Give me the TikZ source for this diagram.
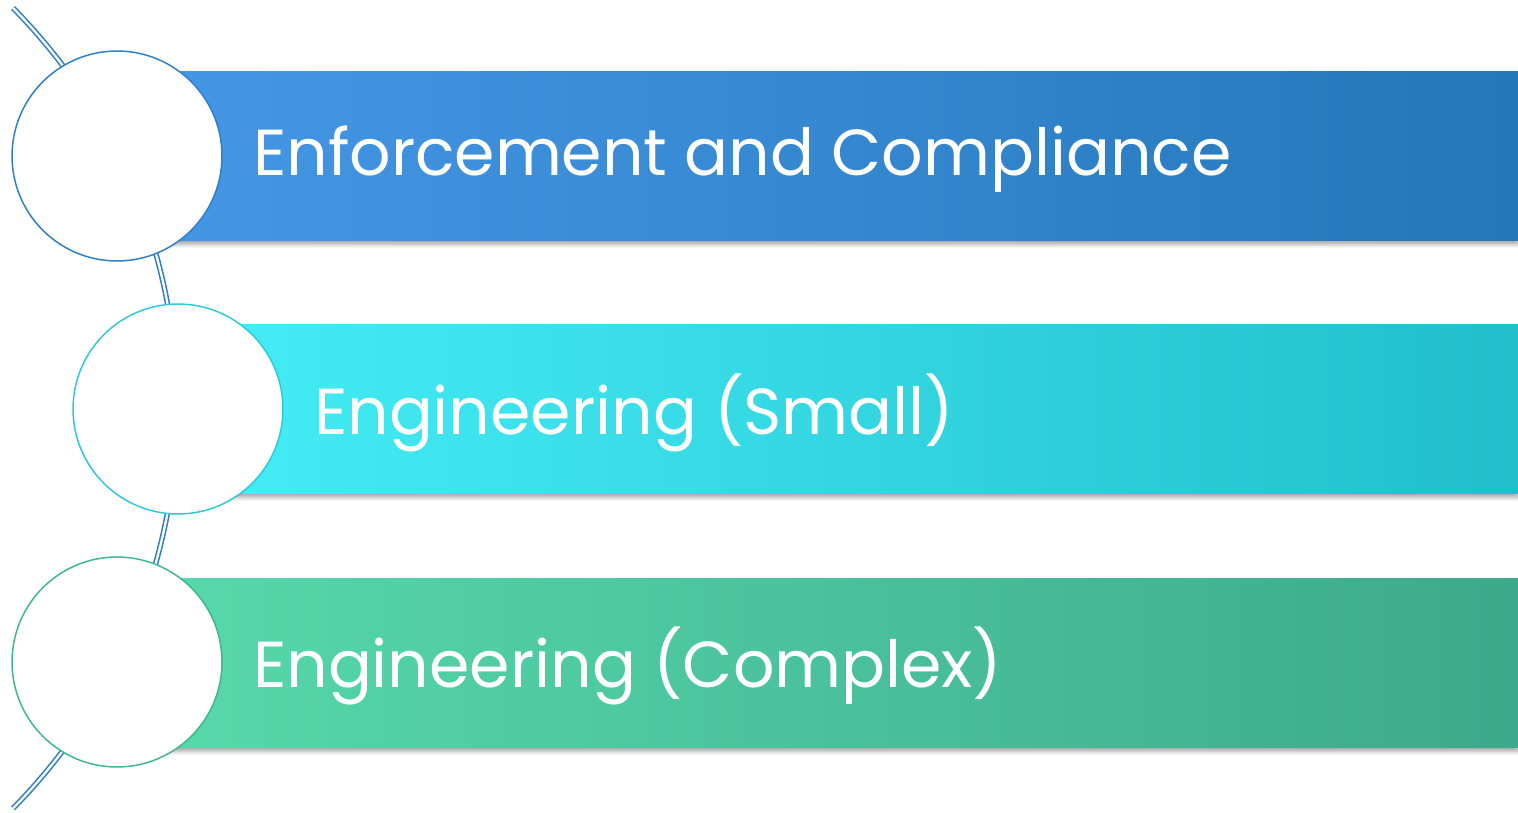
\documentclass[tikz,border=0pt]{standalone}
\usepackage{fontspec}
\setmainfont{Poppins}
\usetikzlibrary{positioning,shadows.blur}

\definecolor{blueL}{HTML}{4597E6}
\definecolor{blueR}{HTML}{2577B9}
\definecolor{cyanL}{HTML}{45EEF7}
\definecolor{cyanR}{HTML}{22BFCB}
\definecolor{greenL}{HTML}{57D8AB}
\definecolor{greenR}{HTML}{3CAA8A}
\definecolor{ringA}{HTML}{2E80C8}
\definecolor{ringB}{HTML}{2FCAD6}
\definecolor{ringC}{HTML}{3DB891}

\tikzset{
  band/.style={rectangle, minimum width=27.16cm, minimum height=3.4cm, inner sep=0pt,
    blur shadow={shadow xshift=0pt, shadow yshift=-2pt, shadow blur steps=6, shadow opacity=35}},
  ring/.style={circle, fill=white, line width=0.85pt, minimum size=4.2cm, inner sep=0pt},
  caption/.style={text=white, font=\fontsize{37}{42}\selectfont, inner sep=0pt, anchor=west, yshift=-2pt},
  spine/.style={draw=ringA, double=white, line width=0.9pt, double distance=1.3pt}
}

\begin{document}
\begin{tikzpicture}[x=0.02cm, y=-0.02cm]
	\useasboundingbox (0,0) rectangle (1518,813);
	\node[band, left color=blueL, right color=blueR] (bar1) at (839,156) {};
	\node[band, left color=cyanL, right color=cyanR] (bar2) at (839,409) {};
	\node[band, left color=greenL, right color=greenR] (bar3) at (839,663) {};
	\coordinate (top) at (13,8);
	\draw[spine] (top) arc[start angle=-44.6, end angle=44.6, radius=570] coordinate (bottom);
	\node[ring, draw=ringA] (c1) at (117,156) {};
	\node[ring, draw=ringB] (c2) at (178,409) {};
	\node[ring, draw=ringC] (c3) at (117,662) {};
	\node[caption, right=0.6cm of c1] (t1) {Enforcement and Compliance};
	\node[caption, right=0.6cm of c2] (t2) {Engineering (Small)};
	\node[caption, right=0.6cm of c3] (t3) {Engineering (Complex)};
\end{tikzpicture}
\end{document}
